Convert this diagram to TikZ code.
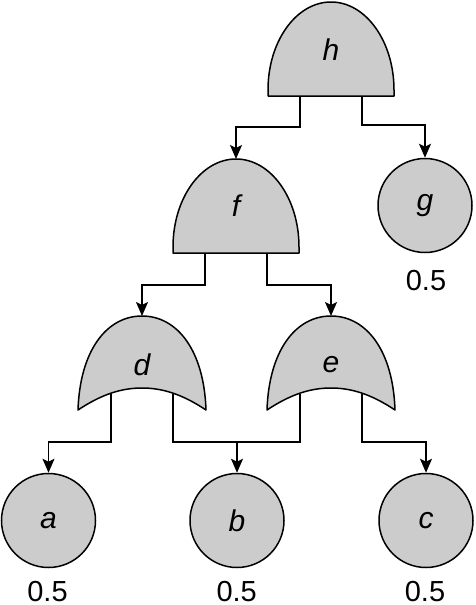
\documentclass[tikz,border=0pt]{standalone}
\usepackage{fontspec}
\setmainfont{Liberation Sans}
\usetikzlibrary{arrows.meta}
\definecolor{gatefill}{HTML}{CCCCCC}
\tikzset{
  x=1pt, y=-1pt,
  gateline/.style={draw=black, line width=1.5pt, fill=gatefill, line join=round},
  wire/.style={draw=black, line width=1.5pt},
  arr/.style={wire, -{Stealth[length=14pt,width=12pt,inset=3pt]}},
  leaf/.style={circle, draw=black, line width=1.5pt, fill=gatefill, minimum size=94pt, inner sep=0pt, font=\fontsize{30}{32}\selectfont\itshape},
  glabel/.style={font=\fontsize{30}{32}\selectfont\itshape, inner sep=0pt},
  prob/.style={font=\fontsize{29}{31}\selectfont, inner sep=0pt, anchor=base},
  andgate/.pic={
    \path[gateline] (-63,0) -- (-63,-6) .. controls (-63,-54.6) and (-34.8,-94) .. (0,-94)
       .. controls (34.8,-94) and (63,-54.6) .. (63,-6) -- (63,0) -- cycle;
    \coordinate (-top) at (0,-94);
    \coordinate (-l) at (-31,0);
    \coordinate (-r) at (31,0);
  },
  orgate/.pic={
    \path[gateline] (-64,0) .. controls (-62,-60) and (-35,-94) .. (0,-94)
       .. controls (35,-94) and (62,-60) .. (64,0)
       .. controls (40,-16) and (20,-22) .. (0,-22)
       .. controls (-20,-22) and (-40,-16) .. (-64,0) -- cycle;
    \coordinate (-top) at (0,-94);
    \coordinate (-l) at (-31,-16);
    \coordinate (-r) at (31,-16);
  }
}
\begin{document}
\begin{tikzpicture}
\useasboundingbox (0,0) rectangle (475,605);
% gates
\pic (h) at (331,96) {andgate};
\pic (f) at (236,253) {andgate};
\pic (d) at (142,410) {orgate};
\pic (e) at (331,410) {orgate};
\node[glabel] (hlab) at (331,50) {h};
\node[glabel] (flab) at (236,206) {f};
\node[glabel] (dlab) at (142,365) {d};
\node[glabel] (elab) at (331,365) {e};
% leaves
\node[leaf] (g) at (425,205.5) {g};
\node[leaf] (a) at (48.5,520.5) {a};
\node[leaf] (b) at (237,520.5) {b};
\node[leaf] (c) at (426,520.5) {c};
\node[prob] (pg) at (426,290) {0.5};
\node[prob] (pa) at (47.5,601) {0.5};
\node[prob] (pb) at (236.7,601) {0.5};
\node[prob] (pc) at (425,601) {0.5};
% connectors
\coordinate (bj) at (237,442);
\draw[arr] (h-l) -- ++(0,31) -| (f-top);
\draw[arr] (h-r) -- ++(0,29) -| (g.north);
\draw[arr] (f-l) -- ++(0,32) -| (d-top);
\draw[arr] (f-r) -- ++(0,32) -| (e-top);
\draw[arr] (d-l) -- ++(0,48) -| (a.north);
\draw[arr] (d-r) -- ++(0,48) -| (b.north);
\draw[wire] (e-l) |- (bj);
\draw[arr] (e-r) -- ++(0,48) -| (c.north);
\end{tikzpicture}
\end{document}
